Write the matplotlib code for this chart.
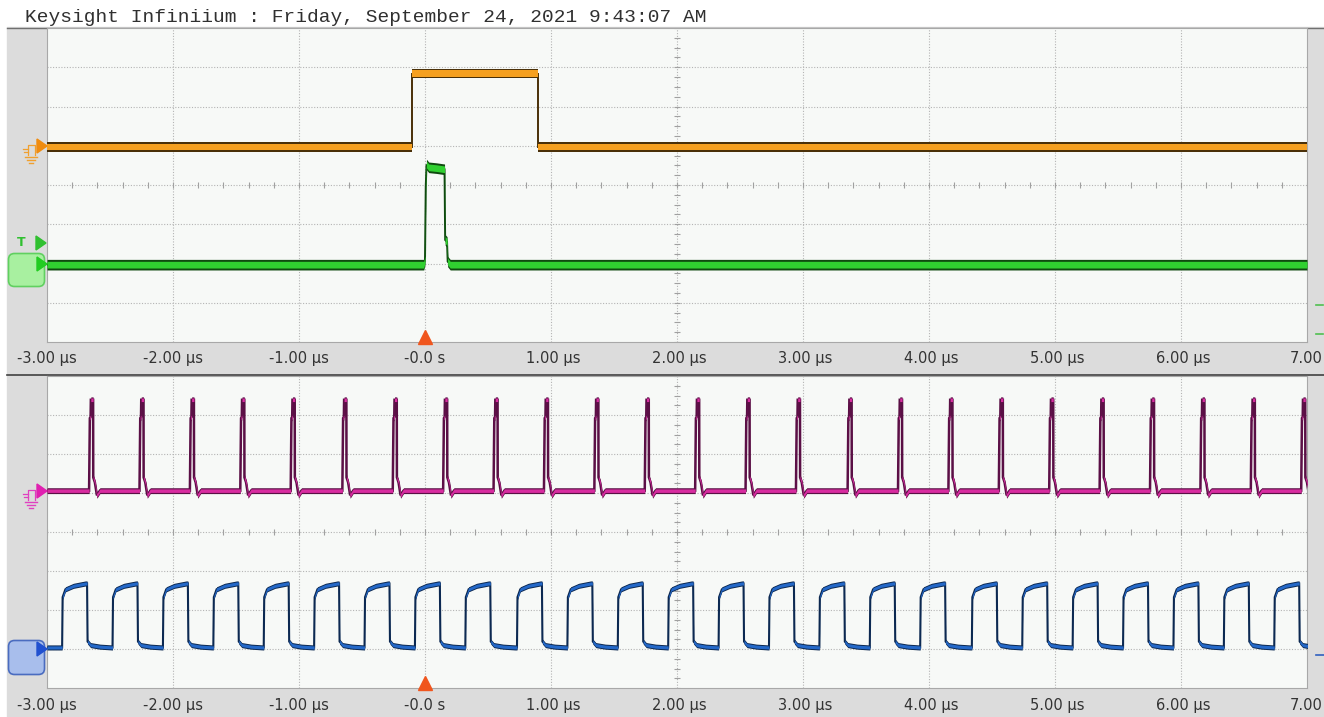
import numpy as np
import matplotlib
matplotlib.use("Agg")
import matplotlib.pyplot as plt
import matplotlib.transforms as mtransforms
from matplotlib.patches import Rectangle, FancyBboxPatch, Polygon

# ---- values (time in us, level in divisions) ----
title = "Keysight Infiniium : Friday, September 24, 2021 9:43:07 AM"
tick_times = [-3, -2, -1, 0, 1, 2, 3, 4, 5, 6]
tick_labels = ["-3.00 µs", "-2.00 µs", "-1.00 µs", "-0.0 s", "1.00 µs", "2.00 µs",
               "3.00 µs", "4.00 µs", "5.00 µs", "6.00 µs"]
last_label = "7.00"  # the screenshot cuts the unit off at the right edge

# channel 1 (orange): single 1 us gate
ch1_t = [-3.0, -0.10, -0.10, 0.90, 0.90, 7.0]
ch1_v = [0.96, 0.96, 2.84, 2.84, 0.96, 0.96]

# channel 2 (green): short pulse at the trigger
ch2_t = [-3.0, -0.01, 0.0, 0.006, 0.012, 0.03, 0.09, 0.155, 0.16, 0.175, 0.18, 0.20, 7.0]
ch2_v = [-2.03, -2.03, -1.90, -0.05, 0.52, 0.45, 0.43, 0.40, -1.40, -1.45, -1.95, -2.03, -2.03]

# channel 4 (magenta): spike times
ch4_spikes = [-2.66, -2.26, -1.86, -1.46, -1.06, -0.65, -0.25, 0.15, 0.55, 0.95,
              1.35, 1.75, 2.15, 2.55, 2.95, 3.36, 3.76, 4.16, 4.56, 4.96,
              5.36, 5.76, 6.16, 6.56, 6.96]
ch4_base = 1.06
spike_dt = [-0.006, 0.0, 0.006, 0.008, 0.026, 0.027, 0.04, 0.056, 0.08]
spike_v = [1.06, 2.92, 2.95, 3.39, 3.39, 1.40, 1.27, 0.94, 1.06]

# channel 3 (blue): square wave rising edges
ch3_rises = [-2.88, -2.48, -2.08, -1.68, -1.28, -0.88, -0.48, -0.08, 0.32, 0.73,
             1.13, 1.53, 1.93, 2.33, 2.73, 3.13, 3.53, 3.93, 4.34, 4.74,
             5.14, 5.54, 5.94, 6.34, 6.74]
ch3_low = -2.96
cycle_dt = [0.0, 0.004, 0.026, 0.09, 0.185, 0.198, 0.202, 0.226, 0.30, 0.395]
cycle_v = [-2.96, -1.67, -1.47, -1.38, -1.32, -1.32, -2.81, -2.90, -2.94, -2.96]


def pulse_train(starts, dts, vals, base):
    t = [-3.0]
    v = [base]
    for s in starts:
        t += [s + d for d in dts]
        v += list(vals)
    if t[-1] < 7.0:
        t.append(7.0)
        v.append(base)
    return np.array(t), np.array(v)


def draw_trace(ax, t, v, fill, dark, h_out, h_in, edge_lw=1.4):
    t = np.asarray(t)
    v = np.asarray(v)
    ax.plot(t, v, color=dark, lw=edge_lw, zorder=3, solid_joinstyle="miter")
    ax.fill_between(t, v - h_out, v + h_out, color=dark, lw=0, zorder=4)
    ax.fill_between(t, v - h_in, v + h_in, color=fill, lw=0, zorder=5)


W, H = 1324, 717
fig = plt.figure(figsize=(W / 100, H / 100), dpi=100)

bg = fig.add_axes([0, 0, 1, 1], zorder=0)
bg.set_xlim(0, W)
bg.set_ylim(H, 0)
bg.axis("off")
bg.add_patch(Rectangle((0, 0), W, H, color="white", zorder=0))
bg.add_patch(Rectangle((7, 27), W - 7, H - 27, color="#dcdcdc", zorder=1))
bg.plot([7, W], [27.5, 27.5], color="#707070", lw=1.0, zorder=2)
bg.plot([7, W], [374.5, 374.5], color="#404040", lw=1.2, zorder=2)
bg.text(25, 17, title, family="Liberation Mono", fontsize=14, color="#303030",
        va="center", ha="left")


def make_panel(top_px, bot_px):
    ax = fig.add_axes([47 / W, 1 - bot_px / H, 1260 / W, (bot_px - top_px) / H], zorder=2)
    ax.set_facecolor("#f7f9f7")
    ax.set_xlim(-3, 7)
    ax.set_ylim(-4, 4)
    ax.set_xticks([])
    ax.set_yticks([])
    for s in ax.spines.values():
        s.set_color("#a8a8a8")
        s.set_linewidth(0.8)
    for x in range(-2, 7):
        ax.axvline(x, color="#b4b4b4", lw=0.8, ls=(0, (1, 1.5)), zorder=1)
    for y in range(-3, 4):
        ax.axhline(y, color="#b4b4b4", lw=0.8, ls=(0, (1, 1.5)), zorder=1)
    ax.plot(np.arange(-3, 7.01, 0.2), np.zeros(51), ls="none", marker="|",
            ms=5, mew=0.8, color="#a0a0a0", zorder=1)
    ax.plot(np.full(33, 2.0), np.arange(-4, 4.01, 0.25), ls="none", marker="_",
            ms=5, mew=0.8, color="#a0a0a0", zorder=1)
    # trigger marker
    ax.plot([0], [-3.88], marker="^", ms=10, color="#f0561e", clip_on=False, zorder=6)
    return ax


ax1 = make_panel(28, 342)
ax2 = make_panel(376, 688)

draw_trace(ax1, ch1_t, ch1_v, "#f5a020", "#4a3008", 0.125, 0.08)
draw_trace(ax1, ch2_t, ch2_v, "#30d030", "#0f4a0f", 0.135, 0.085)

t4, v4 = pulse_train(ch4_spikes, spike_dt, spike_v, ch4_base)
draw_trace(ax2, t4, v4, "#d82ca0", "#5a0f45", 0.075, 0.045, edge_lw=1.8)
t3, v3 = pulse_train(ch3_rises, cycle_dt, cycle_v, ch3_low)
draw_trace(ax2, t3, v3, "#2468c8", "#0c2850", 0.065, 0.04, edge_lw=1.5)

# tick labels under each panel
trans = mtransforms.blended_transform_factory(ax1.transData, bg.transData)
for tt, lab in zip(tick_times, tick_labels):
    off = 0.02 if tt > 0 else 0.0
    for ypx in (363, 710):
        bg.text(tt + off, ypx, lab, transform=trans, ha="center", va="baseline",
                fontsize=10.5, color="#333333", family="DejaVu Sans", zorder=3)
for ypx in (363, 710):
    bg.text(W - 1, ypx, last_label, ha="right", va="baseline",
            fontsize=10.5, color="#333333", family="DejaVu Sans", zorder=3)

# ---- channel markers on the left and right edges ----
ov = fig.add_axes([0, 0, 1, 1], zorder=5)
ov.set_xlim(0, W)
ov.set_ylim(H, 0)
ov.axis("off")
ov.patch.set_alpha(0)


def ground_icon(cx, cy, color):
    ov.plot([cx - 3, cx - 3, cx + 4, cx + 4], [cy + 4, cy - 6, cy - 6, cy + 4], color=color, lw=0.9)
    ov.plot([cx - 8, cx - 3], [cy - 2, cy - 2], color=color, lw=0.9)
    ov.plot([cx - 7, cx - 3], [cy + 1, cy + 1], color=color, lw=0.9)
    ov.plot([cx - 6, cx + 6], [cy + 6, cy + 6], color=color, lw=1.0)
    ov.plot([cx - 4, cx + 4], [cy + 9, cy + 9], color=color, lw=1.0)
    ov.plot([cx - 2, cx + 2], [cy + 12, cy + 12], color=color, lw=1.0)


def arrow(tip_y, color, tip_x=47):
    ov.add_patch(Polygon([[tip_x - 10, tip_y - 7], [tip_x, tip_y], [tip_x - 10, tip_y + 7]],
                         closed=True, color=color, zorder=6))


# channel 1
ground_icon(31, 151, "#f0a030")
arrow(146, "#f08c10")
# trigger + channel 2
ov.text(21, 243, "T", color="#30c030", fontsize=9, fontweight="bold", ha="center", va="center")
arrow(243, "#30c030", tip_x=46)
ov.add_patch(FancyBboxPatch((10, 255), 33, 30, boxstyle="round,pad=1.5,rounding_size=6",
                            facecolor="#a8f0a0", edgecolor="#60d060", lw=1.2, zorder=5))
ground_icon(28, 270, "#40b040")
arrow(264, "#22cc22")
# channel 4
ground_icon(31, 496, "#e040c0")
arrow(491, "#e020b0")
# channel 3
ov.add_patch(FancyBboxPatch((10, 642), 33, 31, boxstyle="round,pad=1.5,rounding_size=6",
                            facecolor="#a8beec", edgecolor="#4a6cc0", lw=1.2, zorder=5))
ground_icon(28, 655, "#3050b0")
arrow(649, "#2050d0")

# right edge offset marks
ov.plot([1316, 1323], [305, 305], color="#50c050", lw=1.2)
ov.plot([1316, 1323], [334, 334], color="#50c050", lw=1.2)
ov.plot([1316, 1324], [655, 655], color="#3060c0", lw=1.2)

fig.savefig("out.png", dpi=100)
